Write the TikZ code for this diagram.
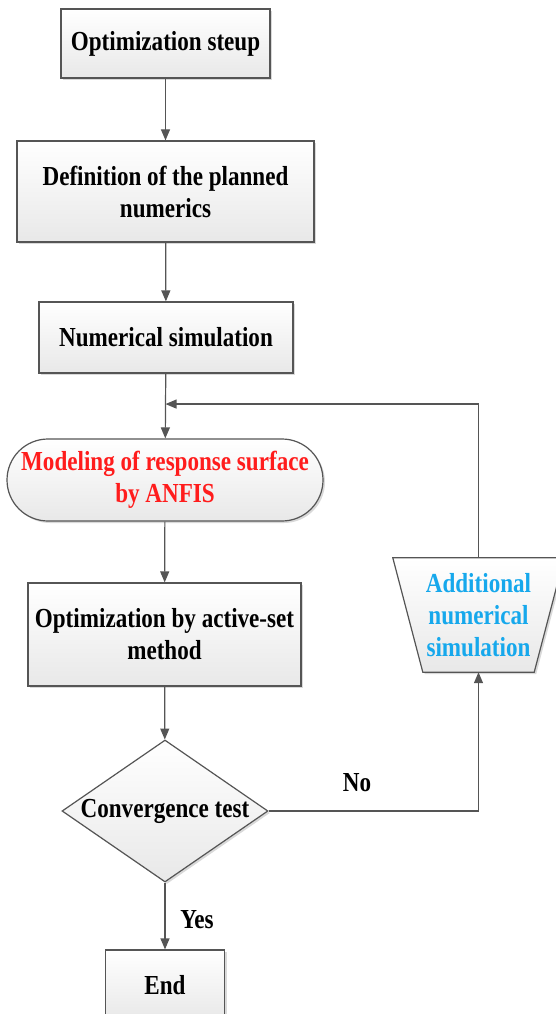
\documentclass[tikz,border=0pt]{standalone}
\usepackage{fontspec}
\setmainfont[FakeStretch=0.84]{Liberation Serif}
\usetikzlibrary{shapes}
\usetikzlibrary{backgrounds}
\usetikzlibrary{shadows,arrows.meta}
\usetikzlibrary{calc}
\usepackage{xcolor}
\definecolor{edgegray}{RGB}{85,85,85}
\definecolor{modelred}{RGB}{255,28,28}
\definecolor{simblue}{RGB}{22,168,236}

\tikzset{
  flowfill/.style={draw=edgegray, line width=1.2pt,
    top color=white, bottom color=black!9,
    drop shadow={opacity=0.3, shadow xshift=2pt, shadow yshift=-2pt}},
  flowbox/.style={rectangle, flowfill,
    align=center, inner sep=0pt,
    font=\bfseries\fontsize{27.5}{32}\selectfont},
  flowline/.style={draw=edgegray, line width=1.2pt, -{Triangle[length=11pt,width=9pt]}},
  flowlabel/.style={font=\bfseries\fontsize{27.5}{32}\selectfont, inner sep=0pt}
}

\begin{document}
\begin{tikzpicture}[x=1pt,y=-1pt]
\useasboundingbox (0,0) rectangle (555,1014);

\node[flowbox, minimum width=209pt, minimum height=69pt] (setup) at (165.5,43.5) {Optimization steup};
\node[flowbox, minimum width=297pt, minimum height=101pt] (plan) at (165.5,191.5) {Definition of the planned\\numerics};
\node[flowbox, minimum width=254pt, minimum height=71pt] (numsim) at (166,337.5) {Numerical simulation};
\node[flowbox, minimum width=316pt, minimum height=82pt, rounded corners=41pt, text=modelred] (model) at (165,480) {Modeling of response surface\\by ANFIS};
\node[flowbox, minimum width=273pt, minimum height=103pt] (activeset) at (164.5,634.5) {Optimization by active-set\\method};
\node[flowbox, diamond, minimum width=206pt, minimum height=142pt, aspect=1.45] (test) at (165,811) {Convergence test};
\node[flowbox, minimum width=119pt, minimum height=70pt] (finish) at (165,985) {End};
\node[flowlabel, align=center, minimum width=111pt, minimum height=114pt, text=simblue] (addsim) at (478.5,615) {Additional\\numerical\\simulation};
\begin{scope}[on background layer]
  \path[flowfill] ($(addsim.north west)+(-30,0)$) -- ($(addsim.north east)+(30,0)$)
    -- (addsim.south east) -- (addsim.south west) -- cycle;
\end{scope}

\coordinate (join) at ($(numsim.south)!0.47!(model.north)$);

\draw[flowline] (setup) -- (plan);
\draw[flowline] (plan) -- (numsim);
\draw[flowline] (numsim) -- (model);
\draw[flowline] (model) -- (activeset);
\draw[flowline] (activeset) -- (test);
\draw[flowline] (test) -- (finish);
\draw[flowline] (test.east) -| (addsim.south);
\draw[flowline] (addsim.north) |- (join);

\node[flowlabel] (nolbl) at (357,783) {No};
\node[flowlabel] (yeslbl) at (197,920) {Yes};
\end{tikzpicture}
\end{document}
